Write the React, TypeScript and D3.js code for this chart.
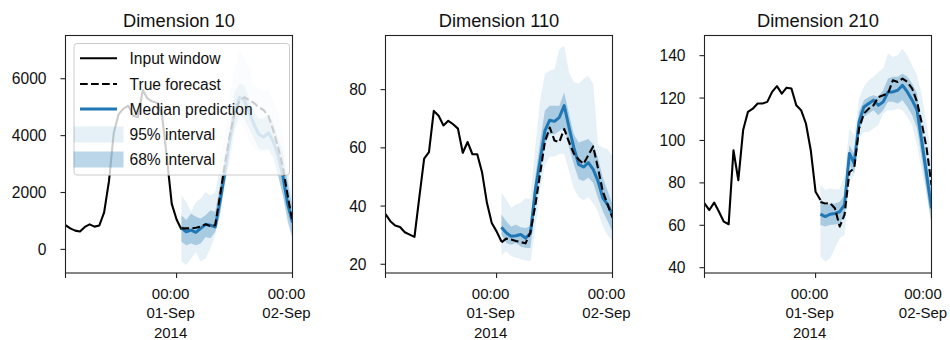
import * as d3 from 'd3';

// hourly series, first input point at 31-Aug-2014 01:00
const inputStart = new Date(2014, 7, 31, 1);
const forecastOffset = 24; // forecast starts at the last input hour

const panelTitles = ['Dimension 10', 'Dimension 110', 'Dimension 210'];
const yDomains: [number, number][] = [[-830, 7520], [17, 98.6], [37.5, 149.5]];
const yTicks = [[0, 2000, 4000, 6000], [20, 40, 60, 80], [40, 60, 80, 100, 120, 140]];

const xTickDates = [new Date(2014, 7, 31, 1), new Date(2014, 8, 1, 0), new Date(2014, 8, 2, 0)];
const xTickLabels = [[], ['00:00', '01-Sep', '2014'], ['00:00', '02-Sep']];

const legendLabels = ['Input window', 'True forecast', 'Median prediction', '95% interval', '68% interval'];

// Dimension 10
const dim10Input = [850, 740, 660, 630, 790, 880, 800, 840, 1300, 2400, 4100, 4750, 4950, 5050, 4700, 4650, 5600, 5300, 5200, 5150, 4700, 3200, 1600, 1050, 700];
const dim10True = [740, 740, 740, 760, 800, 880, 820, 850, 1900, 3000, 4000, 4800, 5200, 5350, 5250, 5150, 5000, 4900, 4700, 4200, 3600, 2900, 1900, 950];
const dim10Median = [760, 620, 680, 600, 740, 880, 850, 790, 1700, 2700, 3800, 4800, 5350, 5250, 4850, 4400, 4050, 3950, 4100, 3800, 3300, 2600, 1600, 950];
const dim10Lo95 = [-430, -550, -320, -80, -430, -320, 35, 500, 1300, 2200, 3400, 4250, 4480, 4300, 3780, 3540, 3420, 3400, 3450, 3190, 2610, 1900, 1200, 500];
const dim10Hi95 = [1900, 1670, 1320, 1670, 1790, 2020, 1900, 2000, 2900, 4100, 5400, 6350, 7050, 6700, 6470, 5770, 5650, 5550, 5650, 5200, 4830, 4010, 2840, 1670];
const dim10Lo68 = [270, 150, 210, 150, 210, 440, 390, 620, 1200, 2370, 3070, 4130, 4710, 4600, 4250, 3900, 3540, 3490, 3540, 3250, 2610, 1900, 970, 390];
const dim10Hi68 = [1200, 1030, 1260, 1150, 1090, 1200, 1380, 1320, 2260, 3190, 4250, 5530, 5820, 5770, 5300, 4830, 4600, 4600, 4710, 4480, 3900, 3420, 2370, 1440];

// Dimension 110
const dim110Input = [37.2, 34.8, 33.3, 32.8, 31.0, 30.2, 29.4, 43, 56.3, 58.5, 72.7, 71, 67.7, 69.3, 68.1, 66.6, 58.3, 62, 57.8, 57.8, 51.5, 41.1, 34.2, 31.3, 27.8];
const dim110True = [27.5, 28.8, 28.5, 28, 27.6, 27.2, 31, 40, 51, 62, 67, 62.5, 62, 66.5, 62, 58, 56, 54.5, 57.5, 60.5, 53, 45, 40.5, 36];
const dim110Median = [32.7, 30.8, 29.6, 29.8, 30.2, 29.0, 30.6, 45.2, 55.5, 65.8, 69.5, 69.1, 70.5, 74.5, 67, 60.1, 54.3, 53.4, 54.9, 52.6, 48.6, 42.8, 40.5, 37];
const dim110Lo95 = [23.3, 24.5, 22.8, 22.2, 21.7, 21.3, 21, 32, 45, 54, 57, 57, 58, 58, 52, 46, 43, 42, 43, 41, 38, 33, 30, 28];
const dim110Hi95 = [44.6, 42.3, 39.4, 40.5, 41.1, 42.8, 42.3, 60, 76.2, 85.4, 86.6, 87, 94, 95, 86, 82.5, 82, 83.7, 84.8, 82, 61.2, 60, 59.5, 57];
const dim110Lo68 = [30.2, 27.3, 26.7, 27.3, 26.1, 25.6, 25.6, 39.4, 50.9, 61.2, 64.7, 64.7, 65.8, 67, 60.1, 54.3, 49.2, 48.6, 49.7, 48, 42.8, 38.2, 34.8, 31.3];
const dim110Hi68 = [37.1, 34.8, 33, 33.6, 32.7, 32.5, 33.1, 50, 62, 72.8, 74.5, 74.5, 74.5, 79.1, 71.6, 64.7, 61.8, 62.4, 63, 61.2, 56.6, 49.7, 45.2, 40.6];

// Dimension 210
const dim210Input = [70.3, 67.2, 70.7, 66.4, 61.7, 60.5, 95.4, 81.3, 104.9, 113.5, 115, 117.4, 117.4, 118.2, 122.9, 125.6, 122.1, 124.9, 124.5, 116.6, 114.3, 108, 95.4, 75.8, 71.9];
const dim210True = [71, 70.3, 70.5, 68, 59.4, 65, 85, 87, 105.6, 112.7, 115, 116.6, 120.5, 121.3, 122.1, 128.4, 127.6, 129.2, 127.6, 124.5, 118.2, 108, 96.2, 79];
const dim210Median = [65.3, 64.1, 65.2, 65.6, 66.4, 69.6, 93.9, 89.2, 108.8, 115.8, 117.4, 119, 116.6, 118.2, 122.9, 122.9, 123.7, 126, 122.9, 119, 114.3, 99.4, 83.7, 68];
const dim210Lo95 = [45.2, 42.9, 44.4, 49.2, 53.9, 55.4, 80.5, 83.7, 100.9, 104, 104, 105.6, 107.2, 112.7, 114.3, 114.3, 115, 114.3, 111.1, 107.2, 97.8, 85.2, 74.3, 60];
const dim210Hi95 = [79, 76.6, 77.4, 77, 77, 83.7, 105.6, 102.5, 119.8, 125.3, 128.4, 130, 132.3, 134, 141, 139.4, 140.2, 143.3, 140.2, 135.4, 130.7, 121.3, 108, 92];
const dim210Lo68 = [60.1, 59.4, 60.1, 60.4, 60.9, 64.1, 88.4, 84.5, 104, 111.1, 112.7, 114.3, 111.9, 114.3, 118.2, 118.2, 117.4, 119, 115.8, 111.9, 105.6, 91.5, 75.8, 60.7];
const dim210Hi68 = [72.7, 69.6, 70.3, 70.3, 71.1, 74.3, 97.8, 93.9, 113.5, 119, 120.5, 121.3, 120.5, 123.7, 129.2, 130, 130, 131.5, 130, 126.8, 122.1, 106.4, 91.5, 75.8];

const panels = [
  { input: dim10Input, truth: dim10True, median: dim10Median, lo95: dim10Lo95, hi95: dim10Hi95, lo68: dim10Lo68, hi68: dim10Hi68 },
  { input: dim110Input, truth: dim110True, median: dim110Median, lo95: dim110Lo95, hi95: dim110Hi95, lo68: dim110Lo68, hi68: dim110Hi68 },
  { input: dim210Input, truth: dim210True, median: dim210Median, lo95: dim210Lo95, hi95: dim210Hi95, lo68: dim210Lo68, hi68: dim210Hi68 },
];

const BLUE = '#1f77b4';
const FONT = "'Liberation Sans', Arial, sans-serif";
const lefts = [65.5, 385.5, 704.5];
const plotW = 227;
const top = 35.5;
const bottom = 273;

const hourAt = (h: number) => d3.timeHour.offset(inputStart, h);

function Panel({ idx }: { idx: number }) {
  const p = panels[idx];
  const left = lefts[idx];
  const x = d3.scaleTime().domain([xTickDates[0], xTickDates[2]]).range([left, left + plotW]);
  const y = d3.scaleLinear().domain(yDomains[idx]).range([bottom, top]);

  const line = d3.line<number>().x((_, i) => x(hourAt(i))).y(d => y(d));
  const fline = d3.line<number>().x((_, i) => x(hourAt(i + forecastOffset))).y(d => y(d));
  const band = (lo: number[], hi: number[]) =>
    d3.area<number>()
      .x((_, i) => x(hourAt(i + forecastOffset)))
      .y0((_, i) => y(lo[i]))
      .y1(d => y(d))(hi) as string;

  const clipId = `clip-${idx}`;
  return (
    <g>
      <clipPath id={clipId}>
        <rect x={left} y={top} width={plotW} height={bottom - top} />
      </clipPath>
      <g clipPath={`url(#${clipId})`}>
        <path d={band(p.lo95, p.hi95)} fill={BLUE} fillOpacity={0.11} />
        <path d={band(p.lo68, p.hi68)} fill={BLUE} fillOpacity={0.3} />
        <path d={line(p.input) as string} fill="none" stroke="#000" strokeWidth={2.1} strokeLinejoin="round" />
        <path d={fline(p.median) as string} fill="none" stroke={BLUE} strokeWidth={3} strokeLinejoin="round" />
        <path d={fline(p.truth) as string} fill="none" stroke="#000" strokeWidth={2.1} strokeDasharray="7.7 3.3" strokeLinejoin="round" />
      </g>
      <rect x={left} y={top} width={plotW} height={bottom - top} fill="none" stroke="#222" strokeWidth={1.1} />
      <text x={left + plotW / 2} y={26.7} textAnchor="middle" fontSize={18.3} fontFamily={FONT} fill="#111">
        {panelTitles[idx]}
      </text>
      {yTicks[idx].map(t => (
        <g key={t}>
          <line x1={left - 5} x2={left} y1={y(t)} y2={y(t)} stroke="#222" strokeWidth={1.1} />
          <text x={left - 19} y={y(t)} dy="0.36em" textAnchor="end" fontSize={15.6} fontFamily={FONT} fill="#111">
            {t}
          </text>
        </g>
      ))}
      {xTickDates.map((t, ti) => {
        // keep the last label of the right panel inside the page
        const cx = Math.min(x(t) - 6, 923);
        return (
          <g key={ti}>
            <line x1={x(t)} x2={x(t)} y1={bottom} y2={bottom + 5} stroke="#222" strokeWidth={1.1} />
            {xTickLabels[ti].map((s, li) => (
              <text key={li} x={cx} y={299 + li * 19.3} textAnchor="middle" fontSize={15} fontFamily={FONT} fill="#111">
                {s}
              </text>
            ))}
          </g>
        );
      })}
    </g>
  );
}

function Legend() {
  const rows = [58.3, 84, 109, 134.5, 159.5];
  const hx0 = 80;
  const hx1 = 117;
  return (
    <g>
      <rect x={74} y={43.5} width={215.5} height={131.5} rx={3} fill="#fff" fillOpacity={0.8} stroke="#ccc" strokeWidth={1} />
      <line x1={hx0} x2={hx1} y1={rows[0]} y2={rows[0]} stroke="#000" strokeWidth={2.1} />
      <line x1={hx0} x2={hx1} y1={rows[1]} y2={rows[1]} stroke="#000" strokeWidth={2.1} strokeDasharray="7.7 3.3" />
      <line x1={hx0} x2={hx1} y1={rows[2]} y2={rows[2]} stroke={BLUE} strokeWidth={3} />
      <rect x={73.5} y={rows[3] - 8} width={50} height={16} fill={BLUE} fillOpacity={0.11} />
      <rect x={73.5} y={rows[4] - 8} width={50} height={16} fill={BLUE} fillOpacity={0.3} />
      {legendLabels.map((s, i) => (
        <text key={s} x={129.5} y={rows[i]} dy="0.36em" fontSize={15.6} fontFamily={FONT} fill="#111">
          {s}
        </text>
      ))}
    </g>
  );
}

export default function App() {
  return (
    <svg
      width={950}
      height={340}
      viewBox="0 0 950 340"
      style={{ position: 'absolute', left: 0, top: 0, background: '#fff' }}
    >
      {panels.map((_, i) => (
        <Panel key={i} idx={i} />
      ))}
      <Legend />
    </svg>
  );
}
